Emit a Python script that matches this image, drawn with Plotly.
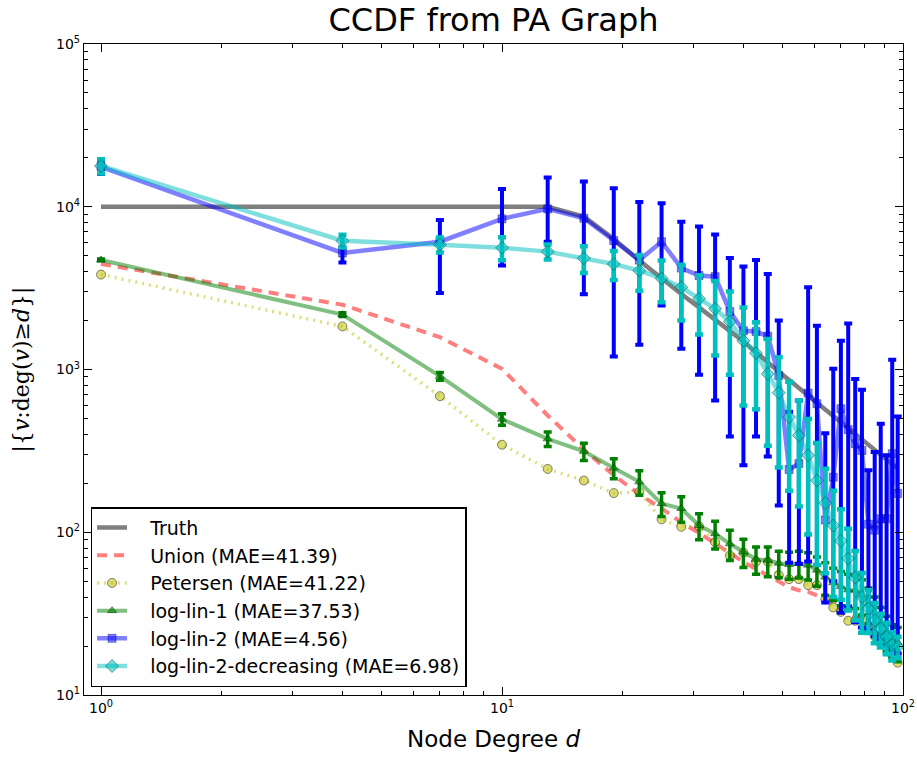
import plotly.graph_objects as go

# ---- data ----
degree = [1, 4, 7, 10, 13, 16, 19, 22, 25, 28, 31, 34, 37, 40, 43, 46, 49,
          52, 55, 58, 61, 64, 67, 70, 73, 76, 79, 82, 85, 88, 91, 94, 97]

truth = [10000, 10000, 10000, 10000, 10000, 8690, 6340, 4670, 3600, 2910, 2410,
         2030, 1730, 1485, 1277, 1101, 970, 861, 769, 691, 625, 568, 518, 474,
         436, 402, 372, 345, 321, 299, 280, 262, 246]

union = [4450, 2500, 1580, 1010, 522, 322, 224, 171, 140, 115, 99, 86, 74.5,
         65.6, 59.5, 54.5, 50, 46, 44, 43, 41, 39, 36, 34, 32, 30.5, 29, 27,
         25, 23.5, 22, 20.5, 19]

petersen = [3830, 1840, 686, 345, 245, 208, 174, 177, 120, 108, 109, 87, 72,
            75, 66, 66, 54.5, 51.5, 51.5, 47.3, 47.3, 38.6, 34.5, 32.4, 28.6,
            28.6, 28.6, 25.3, 23, 22.8, 20.7, 17.6, 15.8]

loglin1 = [4710, 2173, 910, 495, 375, 314, 248, 204, 150, 140, 110, 98, 85,
           75.7, 68.2, 67.3, 64.5, 63.4, 64.3, 62.8, 58.5, 53, 49, 46.4, 44.2,
           44, 41, 36.5, 32, 27.5, 24.5, 22, 21]
loglin1_err = [60, 60, 50, 40, 38, 38, 35, 35, 25, 25, 20, 19, 18, 15, 13, 14,
               12, 12, 12, 12, 12, 12, 11, 11, 11, 10, 10, 9, 8, 7, 6, 5, 5]

loglin2 = [17600, 5200, 6100, 8430, 9700, 8500, 6200, 4700, 6100, 4200, 3780,
           3720, 2270, 1730, 1710, 1600, 919, 243, 264, 716, 616, 119, 218,
           574, 427, 350, 318, 112, 103, 121, 121, 304, 173]
loglin2_err_plus = [1700, 400, 2200, 4420, 5400, 5800, 6800, 6000, 4400, 3900,
                    3790, 3040, 2570, 2560, 3000, 2260, 1081, 307, 382, 2484,
                    1244, 287, 792, 926, 1493, 525, 432, 128, 208, 343, 176,
                    844, 342]
loglin2_err_minus = [1700, 650, 3150, 4080, 3600, 5600, 5000, 3280, 3630,
                     2860, 2850, 3074, 1882, 1472, 1322, 1308, 773, 178, 200,
                     650, 553, 82, 168, 542, 392, 322, 292, 87, 80, 99, 101,
                     285, 155]

loglin2dec = [17800, 6180, 5850, 5590, 5300, 4820, 4450, 4050, 3630, 3200,
              2720, 2360, 1970, 1500, 1260, 940, 720, 510, 394, 297, 208, 151,
              110, 88.5, 69, 52.7, 40.1, 34, 28.8, 25.6, 22.8, 20.3, 19.8]
loglin2dec_err = [1800, 560, 620, 900, 560, 900, 900, 1000, 1040, 1200, 1080,
                  1140, 1040, 900, 690, 600, 470, 330, 250, 200, 145, 95, 70,
                  50, 36, 24, 16, 10, 8, 6, 5, 4, 3]

x_ticks = [1, 10, 100]
x_ticktext = ["10<sup>0</sup>", "10<sup>1</sup>", "10<sup>2</sup>"]
y_ticks = [10, 100, 1000, 10000, 100000]
y_ticktext = ["10<sup>1</sup>", "10<sup>2</sup>", "10<sup>3</sup>",
              "10<sup>4</sup>", "10<sup>5</sup>"]
minor_x = [2, 3, 4, 5, 6, 7, 8, 9, 20, 30, 40, 50, 60, 70, 80, 90]
minor_y = [m * 10 ** e for e in range(1, 5) for m in range(2, 10)]

labels = ["Truth", "Union (MAE=41.39)", "Petersen (MAE=41.22)",
          "log-lin-1 (MAE=37.53)", "log-lin-2 (MAE=4.56)",
          "log-lin-2-decreasing (MAE=6.98)"]

PAD = "\u00a0\u00a0\u00a0"  # pushes legend text right of the longer samples

# ---- figure ----
fig = go.Figure()

fig.add_trace(go.Scatter(
    x=degree, y=truth, mode="lines", name=PAD + labels[0], legendgroup="g0",
    line=dict(color="rgba(0,0,0,0.5)", width=4.5)))

fig.add_trace(go.Scatter(
    x=degree, y=union, mode="lines", name=PAD + labels[1], legendgroup="g1",
    line=dict(color="rgba(255,0,0,0.5)", width=4, dash="10px,7px")))

fig.add_trace(go.Scatter(
    x=degree, y=petersen, mode="lines+markers", name=PAD + labels[2],
    legendgroup="g2",
    line=dict(color="rgba(191,191,0,0.5)", width=3.5, dash="2px,5px"),
    marker=dict(symbol="circle", size=9, color="rgba(191,191,0,0.55)",
                line=dict(color="rgba(0,0,0,0.45)", width=1))))

fig.add_trace(go.Scatter(
    x=degree, y=loglin1, mode="lines+markers", name=PAD + labels[3],
    legendgroup="g3",
    line=dict(color="rgba(0,128,0,0.5)", width=4),
    marker=dict(symbol="triangle-up", size=8, color="rgba(0,128,0,0.6)",
                line=dict(color="rgba(0,60,0,0.5)", width=1)),
    error_y=dict(type="data", array=loglin1_err, color="#008000",
                 thickness=3.5, width=4)))

fig.add_trace(go.Scatter(
    x=degree, y=loglin2, mode="lines+markers", name=PAD + labels[4],
    legendgroup="g4",
    line=dict(color="rgba(0,0,255,0.5)", width=4.5),
    marker=dict(symbol="square", size=8, color="rgba(0,0,255,0.5)",
                line=dict(color="rgba(0,0,120,0.4)", width=1)),
    error_y=dict(type="data", symmetric=False, array=loglin2_err_plus,
                 arrayminus=loglin2_err_minus, color="#0000ff",
                 thickness=4, width=4)))

fig.add_trace(go.Scatter(
    x=degree, y=loglin2dec, mode="lines+markers", name=PAD + labels[5],
    legendgroup="g5",
    line=dict(color="rgba(0,191,191,0.5)", width=4.5),
    marker=dict(symbol="diamond", size=10, color="rgba(0,191,191,0.55)",
                line=dict(color="rgba(0,80,80,0.5)", width=1)),
    error_y=dict(type="data", array=loglin2dec_err, color="#00bfbf",
                 thickness=4.5, width=4)))

axis_common = dict(
    showgrid=False, zeroline=False, showline=True, linecolor="black",
    linewidth=1.2, mirror="ticks", ticks="inside", ticklen=8, tickwidth=1,
    tickcolor="black", ticklabeloverflow="allow",
    tickfont=dict(family="DejaVu Sans", size=14, color="black"))

fig.update_xaxes(
    type="log", range=[-0.0424, 2.0], tickvals=x_ticks, ticktext=x_ticktext,
    minor=dict(tickvals=minor_x, ticks="inside", ticklen=4, tickcolor="black"),
    title=dict(text="Node Degree <i>d</i>",
               font=dict(family="DejaVu Sans", size=23, color="black"),
               standoff=15),
    **axis_common)

fig.update_yaxes(
    type="log", range=[1, 5], tickvals=y_ticks, ticktext=y_ticktext,
    minor=dict(tickvals=minor_y, ticks="inside", ticklen=4, tickcolor="black"),
    title=dict(text="|{<i>v</i>:deg(<i>v</i>)≥<i>d</i>}|",
               font=dict(family="DejaVu Serif", size=22, color="black"),
               standoff=20),
    **axis_common)

fig.update_layout(
    width=917, height=757,
    margin=dict(l=84, r=14, t=44, b=62, autoexpand=False),
    paper_bgcolor="white", plot_bgcolor="white",
    title=dict(text="CCDF from PA Graph", x=0.5, xref="paper",
               y=1 - 20 / 757, yanchor="middle",
               font=dict(family="DejaVu Sans", size=32, color="black")),
    legend=dict(x=0.008, y=0.012, xanchor="left", yanchor="bottom",
                bgcolor="white", bordercolor="black", borderwidth=1.5,
                font=dict(family="DejaVu Sans", size=19, color="black"),
                traceorder="grouped", tracegroupgap=0),
    showlegend=True,
)

# remove the default 8px page margin so the figure fills the window exactly
fig.write_html("out.html",
               config={"displayModeBar": False},
               post_script="document.body.style.margin='0';"
                           "document.body.style.overflow='hidden';")
